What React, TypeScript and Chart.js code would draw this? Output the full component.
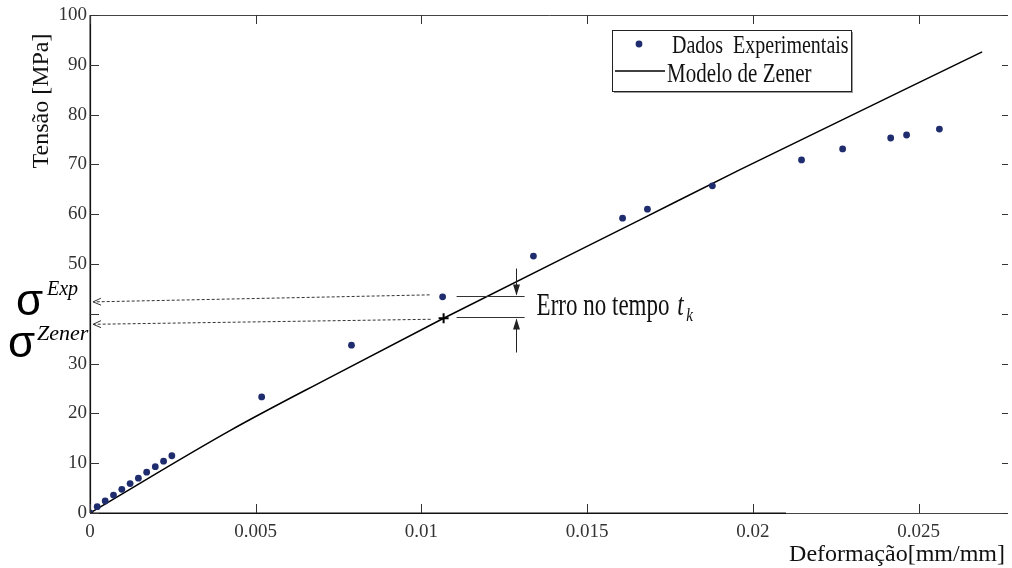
import { useEffect, useRef } from 'react';
import { Chart, registerables } from 'chart.js';

Chart.register(...registerables);

// ---- data ----
const expStrain = [0, 0.000217, 0.000459, 0.000709, 0.00096, 0.00121, 0.00146, 0.00171, 0.00197, 0.00222, 0.00247, 0.00518, 0.00789, 0.01064, 0.01338, 0.01607, 0.01682, 0.01878, 0.02147, 0.02271, 0.02416, 0.02464, 0.02563];
const expStress = [0, 1.27, 2.41, 3.6, 4.76, 5.9, 7.0, 8.2, 9.3, 10.4, 11.5, 23.3, 33.7, 43.4, 51.6, 59.2, 61.0, 65.7, 70.9, 73.1, 75.3, 75.9, 77.1];

const zenerStrain = [0, 0.00421, 0.00723, 0.01067, 0.01658, 0.0196, 0.02692];
const zenerStress = [0, 16.5, 27.2, 39.1, 58.8, 68.9, 92.6];

// time t_k sample
const tkExp = { x: 0.01064, y: 43.4 };
const tkZener = { x: 0.01067, y: 39.1 };

const xTickValues = [0, 0.005, 0.01, 0.015, 0.02, 0.025];
const xTickLabels = ['0', '0.005', '0.01', '0.015', '0.02', '0.025'];
const yTickValues = [0, 10, 20, 30, 40, 50, 60, 70, 80, 90, 100];
const yTickLabels = ['0', '10', '20', '30', '', '50', '60', '70', '80', '90', '100'];

const legendLabels = ['Dados  Experimentais', 'Modelo de Zener'];
const xTitle = 'Deformação[mm/mm]';
const yTitle = 'Tensão [MPa]';
const errText = 'Erro no tempo ';

const POINT_COLOR = '#1f2d6e';
const SERIF = '"Liberation Serif", "Times New Roman", serif';

function stretchText(ctx: CanvasRenderingContext2D, text: string, x: number, y: number, font: string, sy: number, align: CanvasTextAlign = 'left') {
  ctx.save();
  ctx.translate(x, y);
  ctx.scale(1, sy);
  ctx.font = font;
  ctx.textAlign = align;
  ctx.textBaseline = 'alphabetic';
  ctx.fillText(text, 0, 0);
  ctx.restore();
}

function arrowHead(ctx: CanvasRenderingContext2D, tx: number, ty: number, dx: number, dy: number, len: number, half: number, filled: boolean) {
  const bx = tx - dx * len;
  const by = ty - dy * len;
  const px = -dy;
  const py = dx;
  ctx.beginPath();
  ctx.moveTo(bx + px * half, by + py * half);
  ctx.lineTo(tx, ty);
  ctx.lineTo(bx - px * half, by - py * half);
  if (filled) {
    ctx.closePath();
    ctx.fill();
  } else {
    ctx.stroke();
  }
}

const decorPlugin = {
  id: 'decor',
  afterDraw(chart: any) {
    const ctx: CanvasRenderingContext2D = chart.ctx;
    const { left, right, top, bottom } = chart.chartArea;
    const xs = chart.scales.x;
    const ys = chart.scales.y;
    ctx.save();

    // frame
    ctx.lineWidth = 1;
    ctx.strokeStyle = '#444';
    ctx.beginPath();
    ctx.moveTo(left + 0.5, top + 0.5);
    ctx.lineTo(right, top + 0.5);
    ctx.moveTo(left + 0.5, top);
    ctx.lineTo(left + 0.5, bottom + 0.5);
    ctx.lineTo(right, bottom + 0.5);
    ctx.stroke();
    ctx.strokeStyle = '#111';
    ctx.lineWidth = 1.6;
    ctx.beginPath();
    ctx.moveTo(left, bottom + 0.3);
    ctx.lineTo(xs.getPixelForValue(0.021), bottom + 0.3);
    ctx.stroke();
    ctx.beginPath();
    ctx.moveTo(left + 0.3, top);
    ctx.lineTo(left + 0.3, bottom);
    ctx.stroke();

    // ticks
    ctx.lineWidth = 1;
    ctx.strokeStyle = '#333';
    ctx.beginPath();
    xTickValues.forEach((v) => {
      const px = Math.round(xs.getPixelForValue(v)) + 0.5;
      ctx.moveTo(px, bottom);
      ctx.lineTo(px, bottom - 9);
      ctx.moveTo(px, top);
      ctx.lineTo(px, top + 9);
    });
    yTickValues.forEach((v) => {
      const py = Math.round(ys.getPixelForValue(v)) + 0.5;
      ctx.moveTo(left, py);
      ctx.lineTo(left + 9, py);
      ctx.moveTo(right, py);
      ctx.lineTo(right - 6, py);
    });
    ctx.stroke();

    // axis titles
    ctx.fillStyle = '#111';
    ctx.font = `24px ${SERIF}`;
    ctx.textAlign = 'right';
    ctx.textBaseline = 'alphabetic';
    ctx.fillText(xTitle, 1005, 561);
    ctx.save();
    ctx.translate(48, 101);
    ctx.rotate(-Math.PI / 2);
    ctx.textAlign = 'center';
    ctx.fillText(yTitle, 0, 0);
    ctx.restore();

    // legend
    const lx = 612, ly = 30, lw = 239, lh = 61;
    ctx.fillStyle = '#9a9a9a';
    ctx.fillRect(lx + 2, ly + 2, lw, lh);
    ctx.fillStyle = '#fff';
    ctx.fillRect(lx, ly, lw, lh);
    ctx.strokeStyle = '#222';
    ctx.lineWidth = 1;
    ctx.strokeRect(lx + 0.5, ly + 0.5, lw, lh);
    ctx.fillStyle = POINT_COLOR;
    ctx.beginPath();
    ctx.arc(639, 44, 3.4, 0, Math.PI * 2);
    ctx.fill();
    ctx.strokeStyle = '#000';
    ctx.lineWidth = 1.5;
    ctx.beginPath();
    ctx.moveTo(615, 71);
    ctx.lineTo(665, 71);
    ctx.stroke();
    ctx.fillStyle = '#111';
    stretchText(ctx, legendLabels[0], 672, 53, `20px ${SERIF}`, 1.3);
    stretchText(ctx, legendLabels[1], 667, 81.5, `21px ${SERIF}`, 1.3);

    // t_k annotation
    const ex = xs.getPixelForValue(tkExp.x);
    const ey = ys.getPixelForValue(tkExp.y);
    const zx = xs.getPixelForValue(tkZener.x);
    const zy = ys.getPixelForValue(tkZener.y);

    // dashed arrows toward y axis
    ctx.strokeStyle = '#333';
    ctx.lineWidth = 1;
    ctx.setLineDash([3, 2]);
    ctx.beginPath();
    ctx.moveTo(ex - 13, ey - 2);
    ctx.lineTo(left + 4, ey + 5);
    ctx.moveTo(zx - 13, zy + 1);
    ctx.lineTo(left + 4, zy + 6);
    ctx.stroke();
    ctx.setLineDash([]);
    const a1 = Math.atan2(7, -(ex - 13 - left - 4));
    arrowHead(ctx, left + 3, ey + 5, Math.cos(a1), Math.sin(a1), 8, 3.5, false);
    const a2 = Math.atan2(5, -(zx - 13 - left - 4));
    arrowHead(ctx, left + 3, zy + 6, Math.cos(a2), Math.sin(a2), 8, 3.5, false);

    // plus marker at Zener value
    ctx.strokeStyle = '#000';
    ctx.lineWidth = 2;
    ctx.beginPath();
    ctx.moveTo(zx - 5, zy);
    ctx.lineTo(zx + 5, zy);
    ctx.moveTo(zx, zy - 5);
    ctx.lineTo(zx, zy + 5);
    ctx.stroke();

    // horizontal reference lines
    const hx0 = ex + 14, hx1 = ex + 82;
    const hy0 = Math.round(ey - 1) + 0.5, hy1 = Math.round(zy - 1) + 0.5;
    ctx.strokeStyle = '#333';
    ctx.lineWidth = 1;
    ctx.beginPath();
    ctx.moveTo(hx0, hy0);
    ctx.lineTo(hx1, hy0);
    ctx.moveTo(hx0, hy1);
    ctx.lineTo(hx1, hy1);
    ctx.stroke();

    // vertical arrows
    const ax = Math.round(ex + 73) + 0.5;
    ctx.strokeStyle = '#222';
    ctx.fillStyle = '#222';
    ctx.beginPath();
    ctx.moveTo(ax, hy0 - 28);
    ctx.lineTo(ax, hy0 - 2);
    ctx.moveTo(ax, hy1 + 35);
    ctx.lineTo(ax, hy1 + 2);
    ctx.stroke();
    arrowHead(ctx, ax, hy0 - 1, 0, 1, 11, 3.5, true);
    arrowHead(ctx, ax, hy1 + 1, 0, -1, 11, 3.5, true);

    // text
    ctx.fillStyle = '#111';
    const tx = ex + 94;
    const tby = (hy0 + hy1) / 2 + 8;
    stretchText(ctx, errText, tx, tby, `23px ${SERIF}`, 1.35);
    ctx.font = `23px ${SERIF}`;
    const w = ctx.measureText(errText).width;
    stretchText(ctx, 't', tx + w + 2, tby, `italic 23px ${SERIF}`, 1.35);
    stretchText(ctx, 'k', tx + w + 11, tby + 6, `italic 15px ${SERIF}`, 1.2);

    // sigma labels
    ctx.fillStyle = '#000';
    ctx.textAlign = 'left';
    ctx.font = `44px "Liberation Sans", Arial, sans-serif`;
    ctx.fillText('σ', 16, 315);
    ctx.fillText('σ', 8, 357);
    ctx.font = `italic 20px ${SERIF}`;
    ctx.fillText('Exp', 47, 295);
    ctx.font = `italic 22px ${SERIF}`;
    ctx.fillText('Zener', 37, 340);

    ctx.restore();
  },
};

export default function App() {
  const ref = useRef<HTMLCanvasElement | null>(null);

  useEffect(() => {
    document.body.style.margin = '0';
    const canvas = ref.current;
    if (!canvas) return;
    const chart = new Chart(canvas, {
      type: 'scatter',
      data: {
        datasets: [
          {
            label: legendLabels[0],
            data: expStrain.map((x, i) => ({ x, y: expStress[i] })),
            showLine: false,
            pointRadius: 3.4,
            pointBorderWidth: 0,
            pointBackgroundColor: POINT_COLOR,
            pointBorderColor: POINT_COLOR,
            backgroundColor: POINT_COLOR,
            order: 1,
          },
          {
            label: legendLabels[1],
            data: zenerStrain.map((x, i) => ({ x, y: zenerStress[i] })),
            showLine: true,
            pointRadius: 0,
            borderColor: '#000',
            borderWidth: 1.5,
            cubicInterpolationMode: 'monotone',
            fill: false,
            order: 2,
          },
        ],
      },
      options: {
        animation: false,
        responsive: false,
        maintainAspectRatio: false,
        layout: { padding: { top: 15, right: 3, left: 0, bottom: 0 } },
        plugins: { legend: { display: false }, tooltip: { enabled: false } },
        scales: {
          x: {
            type: 'linear',
            min: 0,
            max: 0.0277,
            grid: { display: false, drawTicks: false },
            border: { display: false },
            afterBuildTicks: (scale: any) => {
              scale.ticks = xTickValues.map((v) => ({ value: v }));
            },
            afterFit: (scale: any) => {
              scale.height = 55;
            },
            ticks: {
              autoSkip: false,
              maxRotation: 0,
              padding: 8,
              color: '#333',
              font: { family: SERIF, size: 19 },
              callback: (_v: any, i: number) => xTickLabels[i],
            },
          },
          y: {
            type: 'linear',
            min: 0,
            max: 100,
            grid: { display: false, drawTicks: false },
            border: { display: false },
            afterBuildTicks: (scale: any) => {
              scale.ticks = yTickValues.map((v) => ({ value: v }));
            },
            afterFit: (scale: any) => {
              scale.width = 90;
            },
            ticks: {
              autoSkip: false,
              padding: 3,
              color: '#333',
              font: { family: SERIF, size: 19 },
              callback: (_v: any, i: number) => yTickLabels[i],
            },
          },
        },
      },
      plugins: [decorPlugin],
    } as any);
    return () => chart.destroy();
  }, []);

  return (
    <div style={{ width: 1012, height: 568, background: '#fff' }}>
      <canvas ref={ref} width={1012} height={568} style={{ display: 'block' }} />
    </div>
  );
}
